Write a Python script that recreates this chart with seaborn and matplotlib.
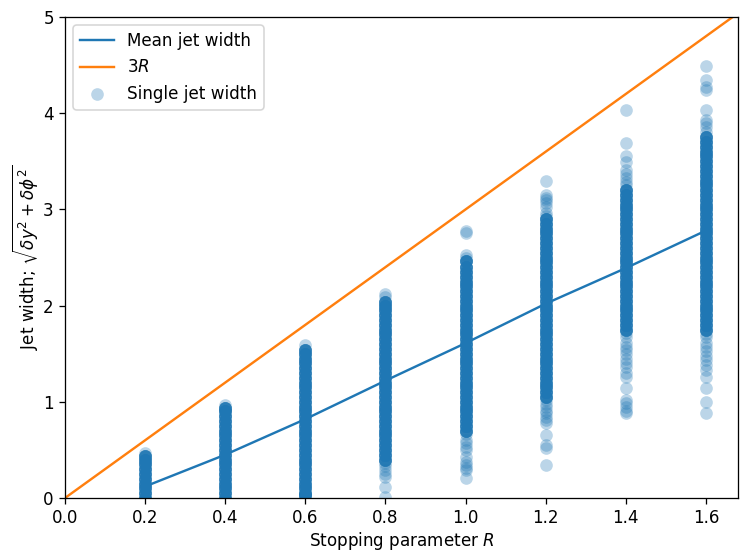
import matplotlib
matplotlib.use("Agg")
import matplotlib.pyplot as plt
import seaborn as sns
import numpy as np
import pandas as pd

plt.rcParams["font.size"] = 10.45

# ---- data ----
R_values = [0.2, 0.4, 0.6, 0.8, 1.0, 1.2, 1.4, 1.6]
mean_width = [0.12, 0.45, 0.82, 1.22, 1.61, 2.02, 2.39, 2.78]

line_R = [0.0, 1.7]
line_3R = [3 * r for r in line_R]

# dense bands (each value drawn several times, giving the solid look)
dense_02 = [0.00, 0.05, 0.10, 0.15, 0.20, 0.25, 0.30, 0.35, 0.40, 0.44]
dense_04 = [0.00, 0.05, 0.10, 0.15, 0.20, 0.25, 0.30, 0.35, 0.40, 0.45,
            0.50, 0.55, 0.60, 0.65, 0.70, 0.75, 0.80, 0.85, 0.90, 0.94]
dense_06 = [0.03, 0.05, 0.10, 0.15, 0.20, 0.25, 0.30, 0.35, 0.40, 0.45,
            0.50, 0.55, 0.60, 0.65, 0.70, 0.75, 0.80, 0.85, 0.90, 0.95,
            1.00, 1.05, 1.10, 1.15, 1.20, 1.25, 1.30, 1.35, 1.40, 1.45,
            1.50, 1.54]
dense_08 = [0.40, 0.45, 0.50, 0.55, 0.60, 0.65, 0.70, 0.75, 0.80, 0.85,
            0.90, 0.95, 1.00, 1.05, 1.10, 1.15, 1.20, 1.25, 1.30, 1.35,
            1.40, 1.45, 1.50, 1.55, 1.60, 1.65, 1.70, 1.75, 1.80, 1.85,
            1.90, 1.95, 2.00, 2.04]
dense_10 = [0.70, 0.75, 0.80, 0.85, 0.90, 0.95, 1.00, 1.05, 1.10, 1.15,
            1.20, 1.25, 1.30, 1.35, 1.40, 1.45, 1.50, 1.55, 1.60, 1.65,
            1.70, 1.75, 1.80, 1.85, 1.90, 1.95, 2.00, 2.05, 2.10, 2.15,
            2.20, 2.25, 2.30, 2.35, 2.40, 2.46]
dense_12 = [1.05, 1.10, 1.15, 1.20, 1.25, 1.30, 1.35, 1.40, 1.45, 1.50,
            1.55, 1.60, 1.65, 1.70, 1.75, 1.80, 1.85, 1.90, 1.95, 2.00,
            2.05, 2.10, 2.15, 2.20, 2.25, 2.30, 2.35, 2.40, 2.45, 2.50,
            2.55, 2.60, 2.65, 2.70, 2.75, 2.80, 2.85, 2.90]
dense_14 = [1.75, 1.80, 1.85, 1.90, 1.95, 2.00, 2.05, 2.10, 2.15, 2.20,
            2.25, 2.30, 2.35, 2.40, 2.45, 2.50, 2.55, 2.60, 2.65, 2.70,
            2.75, 2.80, 2.85, 2.90, 2.95, 3.00, 3.05, 3.10, 3.15, 3.20]
dense_16 = [1.75, 1.80, 1.85, 1.90, 1.95, 2.00, 2.05, 2.10, 2.15, 2.20,
            2.25, 2.30, 2.35, 2.40, 2.45, 2.50, 2.55, 2.60, 2.65, 2.70,
            2.75, 2.80, 2.85, 2.90, 2.95, 3.00, 3.05, 3.10, 3.15, 3.20,
            3.25, 3.30, 3.35, 3.40, 3.45, 3.50, 3.55, 3.60, 3.65, 3.70,
            3.75]
dense_repeat = 7

# isolated single jets
sparse_02 = [0.47]
sparse_04 = [0.97]
sparse_06 = [1.59, 0.00, 0.01]
sparse_08 = [2.12, 2.09, 0.36, 0.33, 0.29, 0.25, 0.22, 0.11, 0.01]
sparse_10 = [2.78, 2.75, 2.53, 2.50, 0.67, 0.60, 0.57, 0.53, 0.50, 0.43,
             0.37, 0.34, 0.31, 0.29, 0.21]
sparse_12 = [3.30, 3.15, 3.12, 3.10, 3.07, 3.03, 2.96, 2.93, 1.02, 0.98,
             0.95, 0.90, 0.88, 0.84, 0.81, 0.78, 0.66, 0.55, 0.52, 0.34]
sparse_14 = [4.03, 3.69, 3.55, 3.49, 3.41, 3.37, 3.33, 3.29, 3.25,
             1.72, 1.67, 1.61, 1.57, 1.54, 1.50, 1.45, 1.40, 1.36, 1.30,
             1.26, 1.14, 1.02, 0.99, 0.95, 0.90, 0.88]
sparse_16 = [4.49, 4.35, 4.27, 4.24, 4.03, 3.93, 3.90, 3.86, 3.80,
             1.70, 1.67, 1.61, 1.57, 1.53, 1.48, 1.43, 1.38, 1.33, 1.26,
             1.14, 1.00, 0.88]

dense_all = [dense_02, dense_04, dense_06, dense_08, dense_10, dense_12, dense_14, dense_16]
sparse_all = [sparse_02, sparse_04, sparse_06, sparse_08, sparse_10, sparse_12, sparse_14, sparse_16]

xs, ys = [], []
for r, d, s in zip(R_values, dense_all, sparse_all):
    for v in d:
        xs += [r] * dense_repeat
        ys += [v] * dense_repeat
    for v in s:
        xs.append(r)
        ys.append(v)
jets = pd.DataFrame({"R": xs, "width": ys})
means = pd.DataFrame({"R": R_values, "mean": mean_width})
ref = pd.DataFrame({"R": line_R, "w": line_3R})

# ---- figure ----
dpi = 115.6
fig = plt.figure(figsize=(740 / dpi, 554 / dpi), dpi=dpi)
ax = fig.add_axes([65 / 740, 1 - 498 / 554, (738 - 65) / 740, (498 - 17) / 554])

sns.lineplot(data=means, x="R", y="mean", color="C0", lw=1.5,
             label="Mean jet width", ax=ax)
sns.lineplot(data=ref, x="R", y="w", color="C1", lw=1.5,
             label="$3R$", ax=ax)
sns.scatterplot(data=jets, x="R", y="width", color="C0", alpha=0.3,
                s=62, linewidth=0, label="Single jet width", ax=ax)

ax.set_xlim(0, 1.68)
ax.set_ylim(0, 5)
ax.set_xticks([0.0, 0.2, 0.4, 0.6, 0.8, 1.0, 1.2, 1.4, 1.6])
ax.set_yticks([0, 1, 2, 3, 4, 5])
ax.set_xlabel("Stopping parameter $R$", labelpad=1.5)
ax.set_ylabel(r"Jet width; $\sqrt{\delta y^2 + \delta\phi^2}$", labelpad=1.5)
ax.legend(loc="upper left")

fig.savefig("out.png", dpi=dpi)
